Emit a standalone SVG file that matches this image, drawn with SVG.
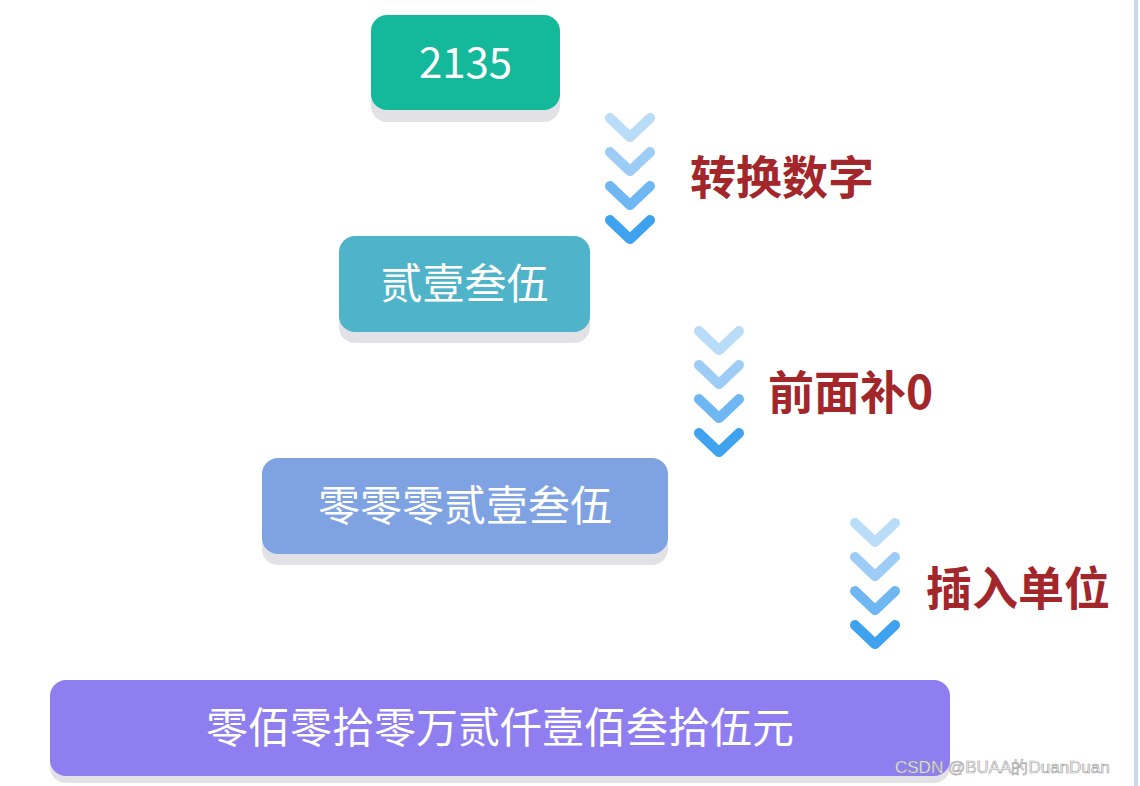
<svg xmlns="http://www.w3.org/2000/svg" width="1140" height="786" viewBox="0 0 1140 786">
<defs>
<style>
.sh{fill:#e2e2e6}
.bt{font-family:"Noto Sans CJK SC","Liberation Sans",sans-serif;fill:#fff;text-anchor:middle;font-size:42px}
.lb{font-family:"Noto Sans CJK SC","Liberation Sans",sans-serif;fill:#a2262a;font-weight:bold;font-size:46px}
.ch{fill:none;stroke-width:10;stroke-linecap:round;stroke-linejoin:round}
.wm{font-family:"Liberation Sans",sans-serif;fill:#fff;stroke:#999;stroke-width:0.6;font-size:17px}
</style>
<g id="chev">
<polyline class="ch" points="-20,-10 0,9 20,-10"/>
</g>
</defs>
<rect width="1140" height="786" fill="#fff"/>
<rect x="1134" y="0" width="4" height="786" fill="#c9d8f0"/>
<g id="n1"><rect class="sh" x="371" y="22" width="189" height="100" rx="16"/><rect x="371" y="15" width="189" height="95" rx="16" fill="#14b99c"/><text class="bt" x="465.5" y="78" font-size="44">2135</text></g>
<g id="n2"><rect class="sh" x="339" y="243" width="251" height="100" rx="16"/><rect x="339" y="236" width="251" height="96" rx="16" fill="#4fb3c9"/><text class="bt" x="464.5" y="299">贰壹叁伍</text></g>
<g id="n3"><rect class="sh" x="262" y="465" width="406" height="100" rx="16"/><rect x="262" y="458" width="406" height="96" rx="16" fill="#7ea2e2"/><text class="bt" x="465" y="521">零零零贰壹叁伍</text></g>
<g id="n4"><rect class="sh" x="50" y="687" width="900" height="96" rx="16"/><rect x="50" y="680" width="900" height="96" rx="16" fill="#8e7ef0"/><text class="bt" x="500" y="743">零佰零拾零万贰仟壹佰叁拾伍元</text></g>
<g id="connectors">
<g transform="translate(630,0)"><use href="#chev" y="128" stroke="#b9dcf8"/><use href="#chev" y="162" stroke="#9dcdf6"/><use href="#chev" y="196" stroke="#6fb7f2"/><use href="#chev" y="230" stroke="#3ea2ee"/></g>
<g transform="translate(719,0)"><use href="#chev" y="341" stroke="#b9dcf8"/><use href="#chev" y="375" stroke="#9dcdf6"/><use href="#chev" y="409" stroke="#6fb7f2"/><use href="#chev" y="443" stroke="#3ea2ee"/></g>
<g transform="translate(875,0)"><use href="#chev" y="533" stroke="#b9dcf8"/><use href="#chev" y="567" stroke="#9dcdf6"/><use href="#chev" y="601" stroke="#6fb7f2"/><use href="#chev" y="635" stroke="#3ea2ee"/></g>
<text class="lb" x="690" y="194">转换数字</text>
<text class="lb" x="768" y="409">前面补0</text>
<text class="lb" x="926" y="605">插入单位</text>
</g>
<text class="wm" x="895" y="773">CSDN @BUAA的DuanDuan</text>
</svg>
